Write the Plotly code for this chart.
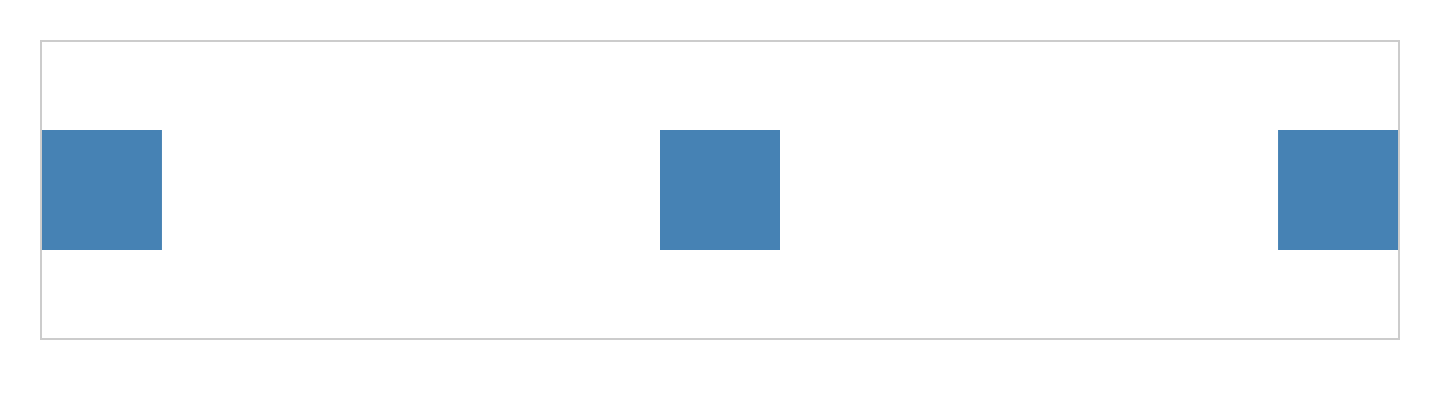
import plotly.graph_objects as go

# three categories, one square each
categories = ["A", "B", "C"]
positions = [0, 1, 2]
values = [0, 0, 0]

fig = go.Figure()

fig.add_trace(go.Scatter(
    x=positions, y=values,
    mode='markers',
    marker=dict(symbol='square', size=120, color='#4682b4', line=dict(width=0)),
    text=categories, hoverinfo='text',
    showlegend=False, cliponaxis=False
))

axis_style = dict(
    showgrid=False, zeroline=False, showticklabels=False, ticks='',
    showline=True, mirror=True, linecolor='#cccccc', linewidth=2
)

# page body adds 8px, margins are set to leave for it
fig.update_layout(
    width=1440, height=420,
    margin=dict(l=34, r=50, t=34, b=90),
    paper_bgcolor='white', plot_bgcolor='white',
    xaxis=dict(range=[-0.097, 2.097], **axis_style),
    yaxis=dict(range=[-1, 1], **axis_style),
)

fig.write_html("out.html")
